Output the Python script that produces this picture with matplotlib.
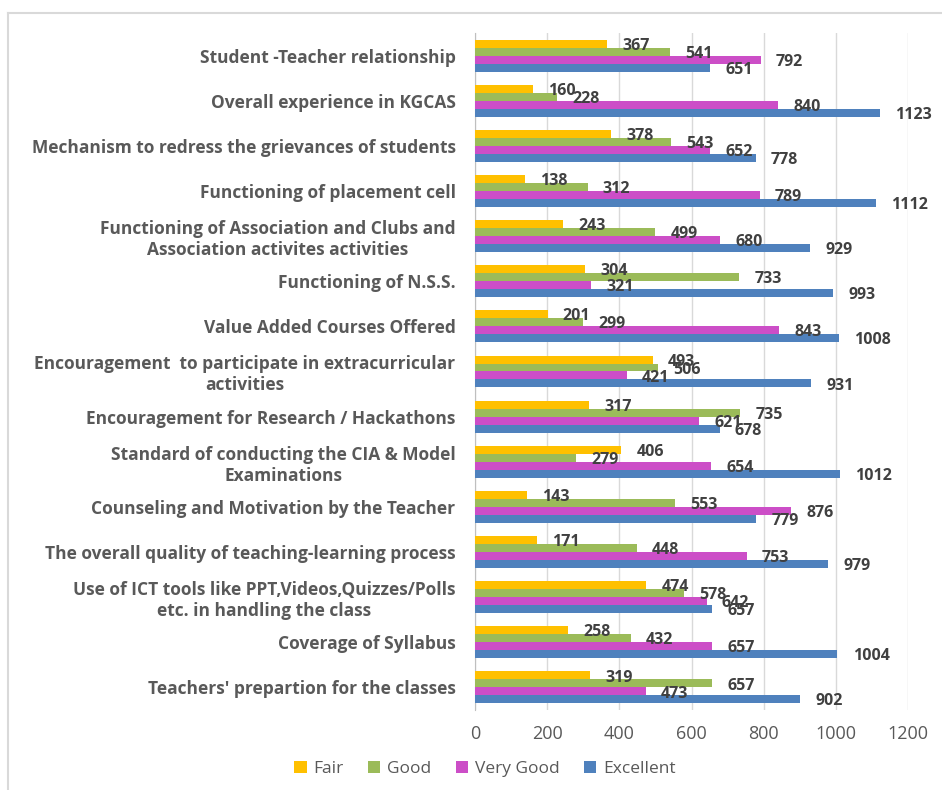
import matplotlib
matplotlib.use("Agg")
import matplotlib.pyplot as plt
import numpy as np
from matplotlib.lines import Line2D

categories = [
    "Student -Teacher relationship",
    "Overall experience in KGCAS",
    "Mechanism to redress the grievances of students",
    "Functioning of placement cell",
    "Functioning of Association and Clubs and\nAssociation activites activities",
    "Functioning of N.S.S.",
    "Value Added Courses Offered",
    "Encouragement  to participate in extracurricular\nactivities",
    "Encouragement for Research / Hackathons",
    "Standard of conducting the CIA & Model\nExaminations",
    "Counseling and Motivation by the Teacher",
    "The overall quality of teaching-learning process",
    "Use of ICT tools like PPT,Videos,Quizzes/Polls\netc. in handling the class",
    "Coverage of Syllabus",
    "Teachers' prepartion for the classes",
]
fair = [367, 160, 378, 138, 243, 304, 201, 493, 317, 406, 143, 171, 474, 258, 319]
good = [541, 228, 543, 312, 499, 733, 299, 506, 735, 279, 553, 448, 578, 432, 657]
very_good = [792, 840, 652, 789, 680, 321, 843, 421, 621, 654, 876, 753, 642, 657, 473]
excellent = [651, 1123, 778, 1112, 929, 993, 1008, 931, 678, 1012, 779, 979, 657, 1004, 902]

series_names = ["Fair", "Good", "Very Good", "Excellent"]
series_vals = [fair, good, very_good, excellent]
colors = ["#FFC000", "#9BBB59", "#CC4EC7", "#4F81BD"]
xticks = [0, 200, 400, 600, 800, 1000, 1200]

plt.rcParams['font.family'] = ['Open Sans', 'DejaVu Sans']

fig = plt.figure(figsize=(9.42, 7.90), dpi=100)
# frame lines
fig.add_artist(Line2D([8/942, 8/942], [0, 1-13/790], color="#D9D9D9", lw=1.5))
fig.add_artist(Line2D([8/942, 1], [1-13/790, 1-13/790], color="#D9D9D9", lw=1.5))

ax = fig.add_axes([475/942, 1-710/790, (908-475)/942, (710-33)/790])
y = np.arange(len(categories))
h = 0.177
offsets = [-1.5*h, -0.5*h, 0.5*h, 1.5*h]
for name, vals, c, off in zip(series_names, series_vals, colors, offsets):
    ax.barh(y + off, vals, height=h, color=c, label=name, zorder=3)
    for yi, v in zip(y, vals):
        ax.annotate(str(v), (v, yi + off), xytext=(11, -1.5), textcoords="offset points",
                    ha="left", va="center", fontsize=11.5, fontweight="bold", color="#404040",
                    zorder=4, annotation_clip=False)

ax.set_xlim(0, 1200)
ax.set_ylim(len(categories) - 0.5, -0.5)
ax.set_xticks(xticks)
ax.set_xticklabels([str(t) for t in xticks], fontsize=13, color="#595959")
ax.set_yticks(y)
ax.set_yticklabels(categories, fontsize=12.5, fontweight="bold", color="#595959", ha="right",
                   multialignment="center")
ax.tick_params(axis="y", length=0, pad=14)
ax.tick_params(axis="x", length=0, pad=11)
ax.grid(axis="x", color="#D9D9D9", lw=1, zorder=0)
for s in ["top", "right", "bottom"]:
    ax.spines[s].set_visible(False)
ax.spines["left"].set_color("#BFBFBF")

handles, labels = ax.get_legend_handles_labels()
fig.legend(handles, labels, loc="center", bbox_to_anchor=(485/942, 1-769/790), ncol=4,
           frameon=False, fontsize=12.5, handlelength=0.7, handleheight=0.7,
           columnspacing=1.4, handletextpad=0.4, labelcolor="#595959")

fig.savefig("out.png", dpi=100)
